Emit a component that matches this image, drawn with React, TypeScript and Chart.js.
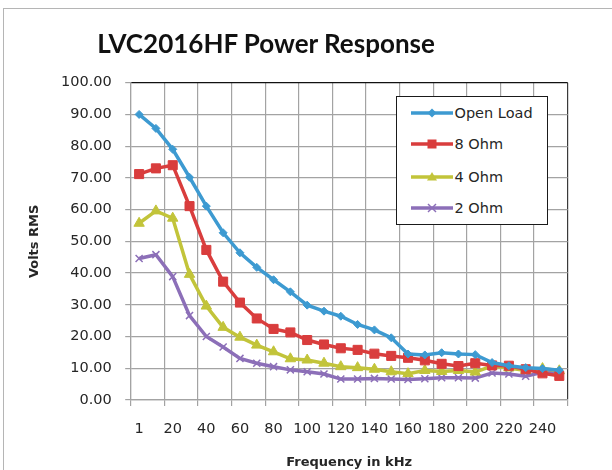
import React, { useEffect, useRef } from 'react';
import { Chart, registerables } from 'chart.js';

Chart.register(...registerables);

// ---- data ----
const frequencies = ['1', '10', '20', '30', '40', '50', '60', '70', '80', '90', '100', '110', '120', '130', '140', '150', '160', '170', '180', '190', '200', '210', '220', '230', '240', '250'];
const openLoad = [90.0, 85.6, 79.0, 70.2, 61.1, 52.7, 46.4, 41.8, 37.9, 34.1, 29.9, 28.0, 26.4, 23.8, 22.1, 19.6, 14.5, 14.2, 14.9, 14.5, 14.3, 11.8, 10.8, 10.2, 9.9, 9.4];
const eightOhm = [71.2, 73.0, 74.0, 61.1, 47.3, 37.3, 30.7, 25.7, 22.4, 21.3, 18.9, 17.5, 16.3, 15.8, 14.6, 13.9, 13.3, 12.5, 11.4, 10.7, 11.6, 10.9, 10.8, 9.7, 8.4, 7.6];
const fourOhm = [55.7, 59.6, 57.3, 39.6, 29.6, 22.9, 19.8, 17.3, 15.2, 13.0, 12.6, 11.6, 10.5, 10.2, 9.7, 8.9, 8.3, 9.3, 9.0, 9.3, 8.8, 10.7, 10.1, 9.3, 9.9, 9.2];
const twoOhm = [44.6, 45.8, 38.9, 26.6, 20.0, 16.7, 13.1, 11.6, 10.5, 9.5, 8.9, 8.2, 6.6, 6.6, 6.8, 6.6, 6.5, 6.7, 7.0, 7.0, 6.9, 8.5, 8.2, 7.5, 8.7, 8.5];
const seriesNames = ['Open Load', '8 Ohm', '4 Ohm', '2 Ohm'];
const seriesColors = ['#3d9ad1', '#d93d3d', '#c2c43a', '#8c6fb8'];
const seriesMarkers = ['rectRot', 'rect', 'triangle', 'crossRot'];
const titleText = 'LVC2016HF Power Response';
const xTitle = 'Frequency in kHz';
const yTitle = 'Volts RMS';
const yMin = 0;
const yMax = 100;
const yStep = 10;

const GRID = '#a3a3a3';
const TEXT = '#262626';
const FONT = 'DejaVu Sans';

function Marker({ kind, color }: { kind: string; color: string }) {
  const cx = 21;
  const cy = 8;
  let m: any = null;
  if (kind === 'rectRot') m = <polygon points={`${cx},${cy - 4.5} ${cx + 4.5},${cy} ${cx},${cy + 4.5} ${cx - 4.5},${cy}`} fill={color} />;
  if (kind === 'rect') m = <rect x={cx - 4.5} y={cy - 4.5} width={9} height={9} fill={color} />;
  if (kind === 'triangle') m = <polygon points={`${cx},${cy - 5} ${cx + 5},${cy + 3.5} ${cx - 5},${cy + 3.5}`} fill={color} />;
  if (kind === 'crossRot')
    m = (
      <g stroke={color} strokeWidth={1.5}>
        <line x1={cx - 4} y1={cy - 4} x2={cx + 4} y2={cy + 4} />
        <line x1={cx - 4} y1={cy + 4} x2={cx + 4} y2={cy - 4} />
      </g>
    );
  return (
    <svg width={42} height={16} style={{ display: 'block' }}>
      <line x1={0} y1={cy} x2={42} y2={cy} stroke={color} strokeWidth={3.5} />
      {m}
    </svg>
  );
}

export default function App() {
  const canvasRef = useRef<HTMLCanvasElement | null>(null);

  useEffect(() => {
    const canvas = canvasRef.current;
    if (!canvas) return;
    const data = [openLoad, eightOhm, fourOhm, twoOhm];
    const chart = new Chart(canvas, {
      type: 'line',
      data: {
        labels: frequencies,
        datasets: data.map((d, i) => ({
          label: seriesNames[i],
          data: d,
          borderColor: seriesColors[i],
          backgroundColor: seriesColors[i],
          borderWidth: 3.5,
          tension: 0,
          pointStyle: seriesMarkers[i] as any,
          pointRadius: [4, 6.4, 6, 5][i],
          pointBorderWidth: i === 3 ? 1.5 : 1,
          pointBorderColor: seriesColors[i],
          pointBackgroundColor: seriesColors[i],
        })),
      },
      options: {
        animation: false,
        responsive: false,
        events: [],
        layout: { padding: { left: 0, right: 44.3, top: 82.7, bottom: 0 } },
        plugins: {
          legend: { display: false },
          title: { display: false },
          tooltip: { enabled: false },
        },
        scales: {
          x: {
            type: 'category',
            offset: true,
            grid: {
              offset: true,
              lineWidth: 1.2,
              tickLength: 6,
              color: (ctx: any) => (ctx.tick === undefined ? '#3a3a3a' : ctx.index % 2 === 0 ? GRID : 'rgba(0,0,0,0)'),
              tickColor: (ctx: any) => (ctx.tick === undefined || ctx.index % 2 === 0 ? GRID : 'rgba(0,0,0,0)'),
            },
            border: { display: true, color: GRID, width: 1.2 },
            ticks: {
              autoSkip: false,
              maxRotation: 0,
              minRotation: 0,
              padding: 15,
              color: TEXT,
              font: { family: FONT, size: 14.5 },
              callback: function (this: any, v: any, i: number) {
                return i % 2 === 0 ? this.getLabelForValue(v) : '';
              },
            },
            title: {
              display: true,
              text: xTitle,
              color: TEXT,
              font: { family: FONT, size: 13, weight: 'bold' },
              padding: { top: 0, bottom: 0 },
            },
            afterFit: (s: any) => {
              s.height = 70;
            },
          },
          y: {
            min: yMin,
            max: yMax,
            grid: {
              lineWidth: 1.2,
              tickLength: 5.5,
              color: (ctx: any) => (ctx.tick && ctx.tick.value === yMax ? '#111' : GRID),
              tickColor: GRID,
            },
            border: { display: true, color: GRID, width: 1.2 },
            ticks: {
              stepSize: yStep,
              padding: 13.5,
              color: TEXT,
              font: { family: FONT, size: 14.5 },
              callback: (v: any) => Number(v).toFixed(2),
            },
            title: {
              display: true,
              text: yTitle,
              color: TEXT,
              font: { family: FONT, size: 13, weight: 'bold' },
              padding: { top: 27, bottom: 0 },
            },
            afterFit: (s: any) => {
              s.width = 130.7;
            },
          },
        },
      } as any,
    });
    return () => chart.destroy();
  }, []);

  const rowCenters = [113, 144.5, 177, 208.5];

  return (
    <div style={{ position: 'relative', width: 612, height: 470, overflow: 'hidden', background: '#fff' }}>
      <style>{`body{margin:0;}`}</style>
      <div
        style={{
          position: 'absolute',
          left: 3,
          top: 7.5,
          width: 640,
          height: 500,
          borderLeft: '1.5px solid #b5b5b5',
          borderTop: '1.5px solid #b5b5b5',
        }}
      />
      <canvas ref={canvasRef} width={612} height={470} style={{ position: 'absolute', left: 0, top: 0, display: 'block' }} />
      <div
        style={{
          position: 'absolute',
          left: 0,
          top: 23,
          width: 532,
          textAlign: 'center',
          fontFamily: 'Lato, "Open Sans", sans-serif',
          fontWeight: 700,
          fontSize: 26,
          lineHeight: '40px',
          color: '#111',
          whiteSpace: 'nowrap',
        }}
      >
        {titleText}
      </div>
      <div
        style={{
          position: 'absolute',
          left: 396,
          top: 96,
          width: 152,
          height: 129,
          boxSizing: 'border-box',
          border: '1.3px solid #1a1a1a',
          background: '#fff',
        }}
      >
        {seriesNames.map((name, i) => (
          <div
            key={name}
            style={{
              position: 'absolute',
              left: 13.5,
              top: rowCenters[i] - 96 - 8 - 1.3,
              height: 16,
              display: 'flex',
              alignItems: 'center',
              whiteSpace: 'nowrap',
            }}
          >
            <Marker kind={seriesMarkers[i]} color={seriesColors[i]} />
            <span style={{ marginLeft: 2, fontFamily: FONT, fontSize: 14.5, color: TEXT, lineHeight: '16px' }}>{name}</span>
          </div>
        ))}
      </div>
    </div>
  );
}
